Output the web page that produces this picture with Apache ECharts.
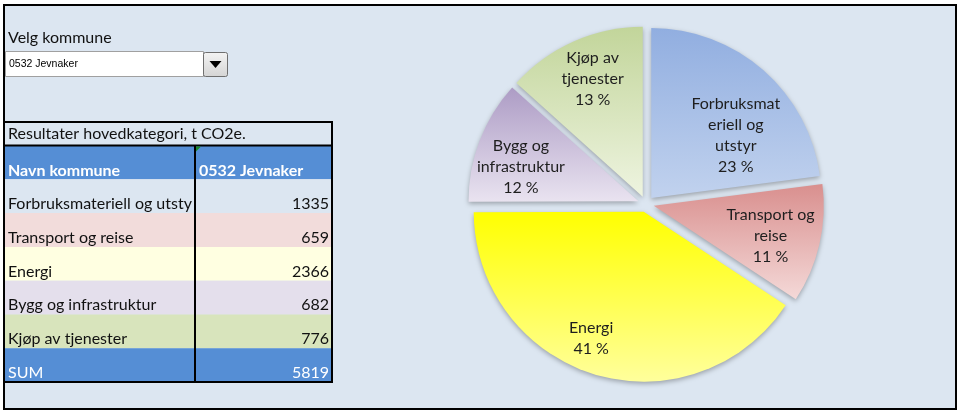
<!DOCTYPE html>
<html>
<head>
<meta charset="utf-8">
<script src="https://cdn.jsdelivr.net/npm/echarts@6/dist/echarts.min.js"></script>
<style>
html,body{margin:0;padding:0;background:#fff;}
#chart{width:961px;height:413px;}
</style>
</head>
<body>
<div id="chart"></div>
<script>
// ---- data ----
const categories = ['Forbruksmateriell og utstyr', 'Transport og reise', 'Energi', 'Bygg og infrastruktur', 'Kjøp av tjenester'];
const values = [1335, 659, 2366, 682, 776];
const sumLabel = 'SUM';
const sumValue = 5819;
const pieLabels = ['Forbruksmat\neriell og\nutstyr', 'Transport og\nreise', 'Energi', 'Bygg og\ninfrastruktur', 'Kjøp av\ntjenester'];
const selectLabel = 'Velg kommune';
const selectedKommune = '0532 Jevnaker';
const tableTitle = 'Resultater hovedkategori, t CO2e.';
const headerLeft = 'Navn kommune';
const headerRight = '0532 Jevnaker';

// ---- styles ----
const sliceTop = ['#91aee0', '#d98f8e', '#ffff00', '#ad9cc5', '#c2d59a'];
const sliceBottom = ['#c1d2ee', '#f4d9d8', '#ffff9c', '#e9e3f0', '#eef4e0'];
const rowColors = ['#dce6f1', '#f2dcdb', '#ffffe1', '#e4dfec', '#d8e4bc'];
const labelShift = [[0, 34], [-8, 1], [-16, 4], [2, 11], [2, -1]];
const blue = '#558ed5';
const font = 'Lato, "Open Sans", sans-serif';

const chart = echarts.init(document.getElementById('chart'));
const total = values.reduce((a, b) => a + b, 0);

function grad(i) {
  return new echarts.graphic.LinearGradient(0, 0, 0, 1, [
    { offset: 0, color: sliceTop[i] },
    { offset: 1, color: sliceBottom[i] }
  ]);
}

// ---- table graphic ----
const g = [];
g.push({ type: 'rect', z: 0, shape: { x: 4, y: 5, width: 952, height: 404 }, style: { fill: '#dce6f1', stroke: '#000', lineWidth: 2 } });
g.push({ type: 'text', z: 5, style: { text: selectLabel, x: 8, y: 38, font: '16px ' + font, fill: '#111', align: 'left', verticalAlign: 'middle' } });
g.push({ type: 'rect', z: 5, shape: { x: 5.5, y: 51.5, width: 198, height: 25 }, style: { fill: '#fff', stroke: '#a0a0a0', lineWidth: 1 } });
g.push({ type: 'text', z: 6, style: { text: selectedKommune, x: 9, y: 64.5, font: '10.5px "Liberation Sans", Arial, sans-serif', fill: '#000', align: 'left', verticalAlign: 'middle' } });
g.push({ type: 'rect', z: 6, shape: { x: 203.5, y: 52.5, width: 24, height: 24, r: 2 }, style: {
  fill: new echarts.graphic.LinearGradient(0, 0, 0, 1, [{ offset: 0, color: '#f4f4f4' }, { offset: 1, color: '#d4d4d4' }]),
  stroke: '#6f6f6f', lineWidth: 1 } });
g.push({ type: 'polygon', z: 7, shape: { points: [[209.5, 61], [221.5, 61], [215.5, 68]] }, style: { fill: '#000' } });

const tx0 = 4, tx1 = 332, colX = 195, titleTop = 122, headTop = 145.5, rowH = 33.8;
g.push({ type: 'rect', z: 3, shape: { x: tx0, y: headTop, width: tx1 - tx0, height: rowH }, style: { fill: blue } });
g.push({ type: 'text', z: 5, style: { text: headerLeft, x: 8, y: headTop + 25, font: 'bold 16px ' + font, fill: '#fff', align: 'left', verticalAlign: 'middle' } });
g.push({ type: 'text', z: 5, style: { text: headerRight, x: 199, y: headTop + 25, font: 'bold 16px ' + font, fill: '#fff', align: 'left', verticalAlign: 'middle' } });
categories.forEach((c, i) => {
  const top = headTop + rowH * (i + 1);
  g.push({ type: 'rect', z: 3, shape: { x: tx0, y: top, width: tx1 - tx0, height: rowH }, style: { fill: rowColors[i] } });
  g.push({ type: 'text', z: 5, style: { text: c, x: 8, y: top + 24.5, width: colX - 9, overflow: 'truncate', ellipsis: '', font: '16px ' + font, fill: '#111', align: 'left', verticalAlign: 'middle' } });
  g.push({ type: 'text', z: 5, style: { text: String(values[i]), x: 329, y: top + 24.5, font: '16px ' + font, fill: '#111', align: 'right', verticalAlign: 'middle' } });
});
const sumTop = headTop + rowH * (categories.length + 1);
g.push({ type: 'rect', z: 3, shape: { x: tx0, y: sumTop, width: tx1 - tx0, height: rowH }, style: { fill: blue } });
g.push({ type: 'text', z: 5, style: { text: sumLabel, x: 8, y: sumTop + 24.5, font: '16px ' + font, fill: '#fff', align: 'left', verticalAlign: 'middle' } });
g.push({ type: 'text', z: 5, style: { text: String(sumValue), x: 329, y: sumTop + 24.5, font: '16px ' + font, fill: '#fff', align: 'right', verticalAlign: 'middle' } });
g.push({ type: 'text', z: 5, style: { text: tableTitle, x: 8, y: 134, font: '16px ' + font, fill: '#111', align: 'left', verticalAlign: 'middle' } });
const endY = sumTop + rowH;
g.push({ type: 'rect', z: 8, shape: { x: tx0, y: titleTop, width: tx1 - tx0, height: endY - titleTop }, style: { fill: 'none', stroke: '#000', lineWidth: 2 } });
g.push({ type: 'line', z: 8, shape: { x1: tx0, y1: headTop, x2: tx1, y2: headTop }, style: { stroke: '#000', lineWidth: 2 } });
g.push({ type: 'line', z: 8, shape: { x1: colX, y1: headTop, x2: colX, y2: endY }, style: { stroke: '#000', lineWidth: 2 } });
g.push({ type: 'polygon', z: 9, shape: { points: [[196, headTop + 1], [201, headTop + 1], [196, headTop + 6]] }, style: { fill: '#1a8a2a' } });

// ---- pie ----
const pieData = categories.map((c, i) => ({
  name: c,
  value: values[i],
  selected: true,
  itemStyle: { color: grad(i) }
}));
const labelData = categories.map((c, i) => ({
  name: c,
  value: values[i],
  selected: true,
  label: { formatter: pieLabels[i] + '\n' + Math.round(values[i] / total * 100) + ' %' }
}));

const center = [646, 204];
const R = 170;

chart.setOption({
  animation: false,
  backgroundColor: '#fff',
  graphic: g,
  series: [
    {
      type: 'pie',
      z: 2,
      center: center,
      radius: [0, R],
      startAngle: 90,
      clockwise: true,
      selectedMode: 'multiple',
      selectedOffset: 8,
      silent: true,
      label: { show: false },
      labelLine: { show: false },
      emphasis: { disabled: true },
      itemStyle: { borderWidth: 0, shadowBlur: 5, shadowColor: 'rgba(0,0,0,0.3)', shadowOffsetY: 2 },
      select: { itemStyle: { borderWidth: 0 } },
      data: pieData
    },
    {
      type: 'pie',
      z: 3,
      center: center,
      radius: [80, R],
      startAngle: 90,
      clockwise: true,
      selectedMode: 'multiple',
      selectedOffset: 8,
      silent: true,
      itemStyle: { color: 'rgba(0,0,0,0)', borderWidth: 0 },
      select: { itemStyle: { color: 'rgba(0,0,0,0)' } },
      emphasis: { disabled: true },
      label: { show: true, position: 'inside', color: '#1e1e1e', fontFamily: font, fontSize: 16, lineHeight: 21, align: 'center' },
      labelLine: { show: false },
      labelLayout: function (p) {
        const s = labelShift[p.dataIndex];
        return { dx: s[0], dy: s[1], hideOverlap: false };
      },
      data: labelData
    }
  ]
});
</script>
</body>
</html>
